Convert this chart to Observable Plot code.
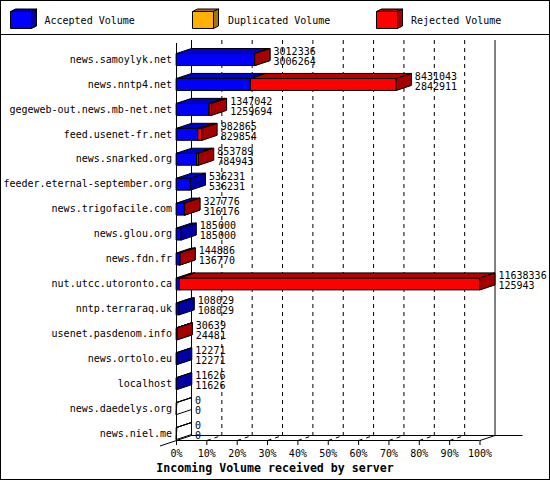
<!DOCTYPE html>
<html>
<head>
<meta charset="utf-8">
<script src="https://cdn.jsdelivr.net/npm/d3@7"></script>
<script src="https://cdn.jsdelivr.net/npm/@observablehq/plot@0.6"></script>
<style>
  body { margin: 0; background: #fff; }
  #frame { position: relative; width: 550px; height: 480px; border: 1px solid #000; box-sizing: border-box;
           font-family: "DejaVu Sans Mono", monospace; font-size: 10px; color: #000; background: #fff; }
  #legend { position: relative; height: 33px; border-bottom: 1px solid #000; }
  #legend svg { position: absolute; left: 0; top: 0; }
  #chart svg { display: block; }
  #title { height: 19px; line-height: 16px; text-align: center; font-weight: bold; font-size: 11.6px; }
</style>
</head>
<body>
<div id="frame">
  <div id="legend"></div>
  <div id="chart"></div>
  <div id="title">Incoming Volume received by server</div>
</div>
<script>
// ---- data ----
const hosts = [
  "news.samoylyk.net", "news.nntp4.net", "gegeweb-out.news.mb-net.net", "feed.usenet-fr.net",
  "news.snarked.org", "feeder.eternal-september.org", "news.trigofacile.com", "news.glou.org",
  "news.fdn.fr", "nut.utcc.utoronto.ca", "nntp.terraraq.uk", "usenet.pasdenom.info",
  "news.ortolo.eu", "localhost", "news.daedelys.org", "news.niel.me"
];
const totalVolume = [3012336, 8431043, 1347042, 982865, 853789, 536231, 327776, 185000,
                     144886, 11638336, 108029, 30639, 12271, 11626, 0, 0];
const acceptedVolume = [3006264, 2842911, 1259694, 829854, 784943, 536231, 316176, 185000,
                        136770, 125943, 108029, 24481, 12271, 11626, 0, 0];
const duplicatedVolume = [0, 0, 0, 0, 0, 0, 0, 0, 0, 0, 0, 0, 0, 0, 0, 0];
const tickValues = [0, 10, 20, 30, 40, 50, 60, 70, 80, 90, 100];
const tickLabels = ["0%", "10%", "20%", "30%", "40%", "50%", "60%", "70%", "80%", "90%", "100%"];
const seriesNames = ["Accepted Volume", "Duplicated Volume", "Rejected Volume"];
const seriesFront = ["#0000ff", "#ffb000", "#ff0000"];
const seriesTop = ["#0000c8", "#c88a00", "#b80000"];
const seriesSide = ["#0000a4", "#a87400", "#a40000"];

// ---- legend ----
const legendX = [9.5, 191.5, 375.5];
const legendTextX = [43.5, 227, 410];
let lg = '<svg width="548" height="33" xmlns="http://www.w3.org/2000/svg">';
seriesNames.forEach((name, k) => {
  const L = legendX[k], T = 10.5, w = 21, h = 17, d = 5, e = 2.5;
  const poly = (pts, fill) => `<polygon points="${pts.map(p => p.join(",")).join(" ")}" fill="${fill}" stroke="#000" stroke-width="1"/>`;
  lg += poly([[L, T], [L + w, T], [L + w, T + h], [L, T + h]], seriesFront[k]);
  lg += poly([[L, T], [L + d, T - e], [L + w + d, T - e], [L + w, T]], seriesSide[k]);
  lg += poly([[L + w, T], [L + w + d, T - e], [L + w + d, T + h - e], [L + w, T + h]], seriesSide[k]);
  lg += `<text x="${legendTextX[k]}" y="23" font-family="DejaVu Sans Mono" font-size="10">${name}</text>`;
});
lg += '</svg>';
document.getElementById("legend").innerHTML = lg;

// ---- geometry (in data units) ----
const X0 = 175, X1 = 478.5, Y0 = 24, Y1 = 398;
const PXPER = (X1 - X0) / 100;
const RY = (Y1 - Y0) / (hosts.length - 1);
const DX = 15 / PXPER, DY = 5 / RY, H = 6 / RY;
const floorFront = hosts.length - 1 + H + 1 / RY;
const floorBack = floorFront - DY;
const wallTopFront = -H - DY - 0.2;
const wallTopBack = wallTopFront - 3 / RY;

const maxV = d3.max(totalVolume);
const P = v => v / maxV * 100;

const faces = [];
let pid = 0;
function addPoly(pts, fill) { const id = pid++; for (const [x, y] of pts) faces.push({id, x, y, fill}); }
function addBox(r, a, b, front, top, side) {
  const t = r - H, u = r + H;
  addPoly([[a, t], [b, t], [b, u], [a, u]], front);
  addPoly([[a, t], [a + DX, t - DY], [b + DX, t - DY], [b, t]], top);
  addPoly([[b, t], [b + DX, t - DY], [b + DX, u - DY], [b, u]], side);
}
hosts.forEach((h, r) => {
  const tot = totalVolume[r];
  if (tot === 0) { addBox(r, 0, 0, "none", "none", "none"); return; }
  const segs = [acceptedVolume[r], duplicatedVolume[r], tot - acceptedVolume[r] - duplicatedVolume[r]];
  let cum = 0;
  segs.forEach((v, k) => {
    if (v <= 0) return;
    addBox(r, P(cum), P(cum + v), seriesFront[k], seriesTop[k], seriesSide[k]);
    cum += v;
  });
});

const innerTicks = tickValues.filter(v => v > 0 && v < 100);
const edgeTicks = tickValues.filter(v => v === 0 || v === 100);
const font = "DejaVu Sans Mono";

const chart = Plot.plot({
  width: 548,
  height: 425,
  margin: 0,
  style: {background: "#fff", overflow: "visible"},
  x: {type: "linear", domain: [0, 100], range: [X0, X1], axis: null},
  y: {type: "linear", domain: [0, hosts.length - 1], range: [Y0, Y1], axis: null},
  color: {type: "identity"},
  marks: [
    // back wall gridlines
    Plot.ruleX(innerTicks, {x: d => d + DX, y1: wallTopBack, y2: floorBack, strokeDasharray: "4,4", stroke: "#000"}),
    Plot.ruleX(edgeTicks, {x: d => d + DX, y1: wallTopBack, y2: floorBack, stroke: "#000"}),
    // floor
    Plot.link(innerTicks, {x1: d => d, y1: floorFront, x2: d => d + DX, y2: floorBack, strokeDasharray: "4,4", stroke: "#000"}),
    Plot.ruleY([floorBack], {y: d => d, x1: DX, x2: 100 + DX + 28 / PXPER, stroke: "#000"}),
    Plot.ruleY([floorFront], {y: d => d, x1: 0, x2: 100, stroke: "#000"}),
    Plot.link([0], {x1: -DX * 1.1, y1: floorFront + DY * 1.1, x2: DX, y2: floorBack, stroke: "#000"}),
    Plot.link([100], {x1: d => d, y1: floorFront, x2: d => d + DX, y2: floorBack, stroke: "#000"}),
    // front left edge
    Plot.ruleX([0], {x: d => d, y1: wallTopFront, y2: floorFront, stroke: "#000"}),
    // ticks
    Plot.ruleX(tickValues, {x: d => d, y1: floorFront, y2: floorFront + 5 / RY, stroke: "#000"}),
    // 3D bars
    Plot.line(faces, {x: "x", y: "y", z: "id", fill: d => d.fill, stroke: "#000", strokeWidth: 1, curve: "linear-closed"}),
    // labels
    Plot.text(hosts, {x: 0, y: (d, i) => i, text: d => d, textAnchor: "end", dx: -4.5, fontFamily: font, fontSize: 10, fill: "#000"}),
    Plot.text(hosts, {x: (d, i) => P(totalVolume[i]), y: (d, i) => i, text: (d, i) => String(totalVolume[i]),
                      textAnchor: "start", dx: 18.5, dy: -7.75, fontFamily: font, fontSize: 10, fill: "#000"}),
    Plot.text(hosts, {x: (d, i) => P(totalVolume[i]), y: (d, i) => i, text: (d, i) => String(acceptedVolume[i]),
                      textAnchor: "start", dx: 18.5, dy: 2.25, fontFamily: font, fontSize: 10, fill: "#000"}),
    Plot.text(tickValues, {x: d => d, y: floorFront, text: (d, i) => tickLabels[i], dy: 13, textAnchor: "middle",
                           fontFamily: font, fontSize: 10, fill: "#000"})
  ]
});
document.getElementById("chart").appendChild(chart);
</script>
</body>
</html>
